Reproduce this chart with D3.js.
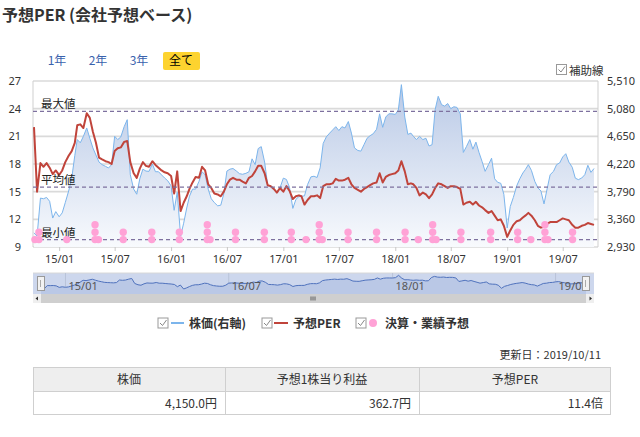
<!DOCTYPE html>
<html>
<head>
<meta charset="utf-8">
<script src="https://cdnjs.cloudflare.com/ajax/libs/d3/7.8.5/d3.min.js"></script>
<style>
  body { margin: 0; background: #fff; }
  svg text { font-family: "Noto Sans CJK JP", "Noto Sans", sans-serif; }
</style>
</head>
<body>
<div id="chart-area"></div>
<script>
// ---- data ----
const startDate = "2014-10-11";
const endDate = "2019-10-11";
const sampleDays = [1, 11, 21];

// 予想PER, 3 points a month (1st, 11th, 21st)
const per2014 = [22.0, 15.0, 18.1, 17.7, 18.1, 17.6, 16.9, 17.3];
const per2015 = [16.8, 17.3, 18.2, 18.9, 19.4, 20.3, 22.2, 22.3, 21.9, 23.5, 23.0, 21.5,
                 20.3, 18.7, 18.5, 18.3, 18.2, 18.0, 19.4, 19.7, 19.8, 20.4, 20.5, 18.2,
                 17.0, 16.5, 17.5, 18.2, 17.8, 17.7, 18.3, 17.9, 17.6, 17.3, 17.1, 17.0];
const per2016 = [16.7, 14.8, 17.2, 12.9, 13.8, 14.5, 15.3, 16.0, 16.6, 16.5, 17.7, 17.3,
                 15.8, 15.4, 14.8, 14.7, 14.5, 15.0, 15.8, 16.3, 16.5, 16.3, 16.3, 16.1,
                 15.9, 16.5, 16.7, 17.2, 17.8, 17.8, 17.0, 15.7, 15.6, 15.3, 14.9, 15.4];
const per2017 = [15.0, 15.6, 15.1, 14.2, 14.5, 14.6, 14.5, 13.6, 14.1, 14.5, 14.5, 14.6,
                 14.3, 15.6, 15.8, 15.8, 15.9, 16.4, 16.2, 16.2, 16.3, 16.5, 15.8, 15.4,
                 15.2, 15.0, 15.3, 15.5, 15.7, 15.9, 16.0, 17.0, 16.0, 16.6, 16.8, 16.9];
const per2018 = [17.0, 17.3, 18.3, 17.2, 15.8, 15.9, 15.8, 15.4, 14.6, 14.9, 14.7, 14.3,
                 14.7, 15.4, 15.9, 15.8, 15.6, 15.4, 15.6, 15.6, 15.5, 15.3, 13.6, 13.8,
                 13.9, 13.6, 13.9, 13.5, 13.3, 13.0, 12.7, 12.9, 12.4, 11.9, 12.0, 11.3];
const per2019 = [10.1, 10.8, 11.4, 11.8, 11.9, 12.2, 12.4, 12.7, 12.4, 11.9, 11.3, 11.1,
                 11.2, 11.5, 11.7, 11.7, 11.7, 11.9, 12.1, 12.0, 11.9, 11.4, 11.1, 11.1,
                 11.3, 11.4, 11.6, 11.5, 11.4];

// 株価(右軸)
const price2014 = [3150, 3100, 3690, 3680, 3700, 3640, 3380, 3480];
const price2015 = [3400, 3460, 3620, 3800, 4000, 4350, 4600, 4550, 4650, 4780, 4620, 4470,
                   4360, 4250, 4210, 4184, 4158, 4210, 4650, 4600, 4640, 4800, 4909, 4054,
                   3830, 3750, 3990, 4140, 4110, 4106, 4220, 4100, 4100, 4050, 4002, 3960];
const price2016 = [3880, 3500, 3780, 3100, 3300, 3536, 3720, 3830, 3830, 3950, 4100, 4050,
                   3830, 3680, 3620, 3570, 3580, 3760, 4110, 4140, 4150, 4110, 4070, 4060,
                   4075, 4100, 4300, 4210, 4460, 4490, 4250, 3890, 3865, 3840, 3770, 3847];
const price2017 = [4000, 3980, 3860, 3530, 3670, 3715, 3718, 3725, 3900, 4020, 4030, 4010,
                   4160, 4540, 4640, 4700, 4750, 4800, 4740, 4800, 4780, 4880, 4700, 4470,
                   4430, 4420, 4520, 4620, 4660, 4690, 4760, 5000, 4790, 4950, 5000, 5000];
const price2018 = [4990, 5060, 5453, 4950, 4680, 4700, 4650, 4600, 4650, 4600, 4620, 4500,
                   4520, 5065, 5272, 5142, 5120, 5160, 5080, 5110, 5100, 5000, 4400, 4490,
                   4600, 4450, 4560, 4400, 4260, 4106, 4210, 4310, 3990, 3935, 3920, 3750];
const price2019 = [3225, 3560, 3700, 3880, 3990, 4080, 4132, 4210, 4120, 3950, 3850, 3800,
                   3600, 3830, 4054, 4106, 4210, 4236, 4330, 4380, 4250, 4170, 4000, 3977,
                   4002, 4054, 4200, 4090, 4150];

// 最大値 / 平均値 / 最小値 of PER
const refLabels = ["最大値", "平均値", "最小値"];
const refValues = [23.7, 15.5, 9.8];

// 決算・業績予想 (date, number of stacked dots)
const dotDates = ["2014-10-14", "2014-10-27", "2015-01-26", "2015-04-28", "2015-05-09", "2015-07-29",
                  "2015-10-30", "2016-01-28", "2016-04-28", "2016-05-07", "2016-07-29", "2016-10-31",
                  "2017-01-27", "2017-03-16", "2017-04-28", "2017-05-08", "2017-07-31", "2017-11-01",
                  "2018-02-02", "2018-03-17", "2018-05-03", "2018-05-14", "2018-08-03", "2018-11-08",
                  "2019-02-04", "2019-03-19", "2019-05-04", "2019-05-14", "2019-08-02"];
const dotCounts = [1, 2, 1, 3, 1, 2,
                   2, 2, 3, 1, 2, 2,
                   2, 1, 3, 1, 2, 2,
                   2, 1, 3, 1, 2, 2,
                   2, 1, 3, 1, 2];

const perTicks = [9, 12, 15, 18, 21, 24, 27];
const priceTicks = [2930, 3360, 3790, 4220, 4650, 5080, 5510];
const xTicks = ["2015-01-01", "2015-07-01", "2016-01-01", "2016-07-01", "2017-01-01",
                "2017-07-01", "2018-01-01", "2018-07-01", "2019-01-01", "2019-07-01"];
const navTicks = ["2015-01-01", "2016-07-01", "2018-01-01", "2019-07-01"];

const rangeButtons = ["1年", "2年", "3年", "全て"];
const legendLabels = ["株価(右軸)", "予想PER", "決算・業績予想"];
const tableHeaders = ["株価", "予想1株当り利益", "予想PER"];
const tableValues = ["4,150.0円", "362.7円", "11.4倍"];

// ---- build the series ----
const parse = d3.utcParse("%Y-%m-%d");
const start = parse(startDate), end = parse(endDate);
const dates = d3.utcMonths(d3.utcMonth.floor(start), d3.utcMonth.offset(end, 1))
  .flatMap(m => sampleDays.map(day => new Date(Date.UTC(m.getUTCFullYear(), m.getUTCMonth(), day))))
  .filter(d => d >= start && d <= end);
const perValues = [].concat(per2014, per2015, per2016, per2017, per2018, per2019);
const priceValues = [].concat(price2014, price2015, price2016, price2017, price2018, price2019);
const data = dates.map((d, i) => ({date: d, per: perValues[i], price: priceValues[i]}));

// ---- layout ----
const W = 640, H = 437;
const plot = {left: 33, right: 598, top: 81, bottom: 247};

const svg = d3.select("#chart-area").append("svg")
  .attr("width", W).attr("height", H);

const x = d3.scaleUtc().domain([start, end]).range([34, 594]);
const yPer = d3.scaleLinear().domain([9, 27]).range([plot.bottom, plot.top]);
const yPrice = d3.scaleLinear().domain([2930, 5510]).range([plot.bottom, plot.top]);

// title
svg.append("text")
  .attr("x", 2).attr("y", 21)
  .attr("font-size", "16px").attr("font-weight", "bold").attr("fill", "#333")
  .text("予想PER (会社予想ベース)");

// range buttons
const btnX = [57, 98, 139, 181];
svg.append("rect")
  .attr("x", 163).attr("y", 52).attr("width", 37).attr("height", 18).attr("rx", 2)
  .attr("fill", "#fdd32f");
rangeButtons.forEach((t, i) => {
  svg.append("text")
    .attr("x", btnX[i]).attr("y", 65).attr("text-anchor", "middle")
    .attr("font-size", "12px")
    .attr("fill", i === 3 ? "#000" : "#3a62ad")
    .text(t);
});

function checkbox(g, cx, cy) {
  g.append("rect").attr("x", cx).attr("y", cy).attr("width", 10).attr("height", 10)
    .attr("fill", "#fff").attr("stroke", "#999");
  g.append("path")
    .attr("d", `M${cx + 2},${cy + 5} L${cx + 4.5},${cy + 7.5} L${cx + 8.5},${cy + 2}`)
    .attr("fill", "none").attr("stroke", "#888").attr("stroke-width", 1);
}

// 補助線
checkbox(svg, 556.5, 64.5);
svg.append("text").attr("x", 569).attr("y", 74.5)
  .attr("font-size", "11.5px").attr("fill", "#333").text("補助線");

// gradient for the price area
const defs = svg.append("defs");
const grad = defs.append("linearGradient").attr("id", "areaGrad")
  .attr("x1", 0).attr("y1", 0).attr("x2", 0).attr("y2", 1);
grad.append("stop").attr("offset", "0%").attr("stop-color", "#b9c9e6");
grad.append("stop").attr("offset", "100%").attr("stop-color", "#f8fafd");

// gridlines
const g = svg.append("g");
g.selectAll(".grid").data(perTicks).enter().append("line")
  .attr("x1", plot.left).attr("x2", plot.right)
  .attr("y1", d => yPer(d)).attr("y2", d => yPer(d))
  .attr("stroke", "#dadada").attr("stroke-width", 1.6);
[plot.left, plot.right].forEach(px => {
  g.append("line").attr("x1", px).attr("x2", px)
    .attr("y1", plot.top).attr("y2", plot.bottom)
    .attr("stroke", "#cfcfcf").attr("stroke-width", 1);
});

// price area + line
g.append("path").datum(data)
  .attr("fill", "url(#areaGrad)")
  .attr("d", d3.area().x(d => x(d.date)).y0(plot.bottom).y1(d => yPrice(d.price)));
g.append("path").datum(data)
  .attr("fill", "none").attr("stroke", "#7cb5ec").attr("stroke-width", 1)
  .attr("d", d3.line().x(d => x(d.date)).y(d => yPrice(d.price)));

// PER line
g.append("path").datum(data)
  .attr("fill", "none").attr("stroke", "#c0443b").attr("stroke-width", 2)
  .attr("stroke-linejoin", "round")
  .attr("d", d3.line().x(d => x(d.date)).y(d => yPer(d.per)));

// reference lines
refValues.forEach((v, i) => {
  g.append("line")
    .attr("x1", plot.left).attr("x2", plot.right)
    .attr("y1", yPer(v)).attr("y2", yPer(v))
    .attr("stroke", "#7e719f").attr("stroke-width", 1.3)
    .attr("stroke-dasharray", "4,3");
  g.append("text")
    .attr("x", 41).attr("y", yPer(v) - 3)
    .attr("font-size", "11.5px").attr("fill", "#222")
    .text(refLabels[i]);
});

// 決算・業績予想 dots
const dots = [];
dotDates.forEach((ds, i) => {
  for (let k = 0; k < dotCounts[i]; k++) dots.push({date: parse(ds), level: k});
});
g.selectAll(".dot").data(dots).enter().append("circle")
  .attr("cx", d => x(d.date))
  .attr("cy", d => yPer(refValues[2]) - d.level * 7.4)
  .attr("r", 3.7)
  .attr("fill", "#ffa2d6");

// axes
const yAxisL = g.append("g")
  .attr("transform", `translate(${plot.left},0)`)
  .call(d3.axisLeft(yPer).tickValues(perTicks).tickSize(0).tickPadding(12));
const yAxisR = g.append("g")
  .attr("transform", `translate(${plot.right},0)`)
  .call(d3.axisRight(yPrice).tickValues(priceTicks).tickFormat(d3.format(",")).tickSize(0).tickPadding(9));
const xAxis = g.append("g")
  .attr("transform", `translate(0,${plot.bottom})`)
  .call(d3.axisBottom(x).tickValues(xTicks.map(parse)).tickFormat(d3.utcFormat("%y/%m")).tickSize(4).tickPadding(4));
[yAxisL, yAxisR, xAxis].forEach(a => {
  a.select(".domain").remove();
  a.selectAll("text").attr("font-size", "11px").attr("fill", "#333")
    .style("font-family", "'Noto Sans', sans-serif");
  a.selectAll("line").attr("stroke", "#c8c8c8");
});

// ---- navigator ----
const nav = {left: 33, right: 594, top: 273, bottom: 294};
const xNav = d3.scaleUtc().domain([start, end]).range([41, 586]);
const yNav = d3.scaleLinear().domain([2930, 5510]).range([290, 275]);
const ng = svg.append("g");
ng.append("rect").attr("x", nav.left).attr("y", nav.top)
  .attr("width", nav.right - nav.left).attr("height", nav.bottom - nav.top)
  .attr("fill", "#cdd7ed");
ng.append("line").attr("x1", nav.left).attr("x2", nav.right)
  .attr("y1", nav.top).attr("y2", nav.top).attr("stroke", "#d8d8d8");
ng.selectAll(".navtick").data(navTicks.map(parse)).enter().append("line")
  .attr("x1", d => xNav(d)).attr("x2", d => xNav(d))
  .attr("y1", nav.top).attr("y2", nav.bottom)
  .attr("stroke", "#b9c3d8").attr("stroke-width", 1);
ng.append("path").datum(data)
  .attr("fill", "#bac8e6")
  .attr("d", d3.area().x(d => xNav(d.date)).y0(nav.bottom).y1(d => yNav(d.price)));
ng.append("path").datum(data)
  .attr("fill", "none").attr("stroke", "#4f72bd").attr("stroke-width", 1)
  .attr("d", d3.line().x(d => xNav(d.date)).y(d => yNav(d.price)));
ng.selectAll(".navlabel").data(navTicks.map(parse)).enter().append("text")
  .attr("x", d => xNav(d) + 3).attr("y", 290)
  .attr("font-size", "11px").attr("fill", "#555")
  .style("font-family", "'Noto Sans', sans-serif")
  .text(d3.utcFormat("%y/%m"));
// handles
[41, 586].forEach(hx => {
  ng.append("rect").attr("x", hx - 3.5).attr("y", 276.5).attr("width", 7).attr("height", 14)
    .attr("fill", "#f2f2f2").attr("stroke", "#999");
  ng.append("line").attr("x1", hx - 0.5).attr("x2", hx - 0.5).attr("y1", 280).attr("y2", 287)
    .attr("stroke", "#aaa");
});
// scrollbar
ng.append("rect").attr("x", nav.left).attr("y", 294).attr("width", nav.right - nav.left)
  .attr("height", 9).attr("fill", "#efefef");
ng.append("rect").attr("x", 41).attr("y", 294).attr("width", 545).attr("height", 9)
  .attr("fill", "#cfcfcf");
[311, 313, 315].forEach(gx => {
  ng.append("line").attr("x1", gx).attr("x2", gx).attr("y1", 296.5).attr("y2", 300.5)
    .attr("stroke", "#444").attr("stroke-width", 0.8);
});
ng.append("path").attr("d", "M38,296.5 L35.5,298.5 L38,300.5 Z").attr("fill", "#333");
ng.append("path").attr("d", "M589.5,296.5 L592,298.5 L589.5,300.5 Z").attr("fill", "#333");

// ---- legend ----
const lg = svg.append("g");
const legendX = [158, 262, 356];
legendLabels.forEach((t, i) => {
  checkbox(lg, legendX[i], 318);
  if (i === 0) {
    lg.append("line").attr("x1", 171).attr("x2", 184).attr("y1", 323).attr("y2", 323)
      .attr("stroke", "#7cb5ec").attr("stroke-width", 2);
  } else if (i === 1) {
    lg.append("line").attr("x1", 274).attr("x2", 288).attr("y1", 323).attr("y2", 323)
      .attr("stroke", "#c0443b").attr("stroke-width", 2);
  } else {
    lg.append("circle").attr("cx", 373).attr("cy", 323).attr("r", 4).attr("fill", "#ffa2d6");
  }
  lg.append("text")
    .attr("x", [189, 293, 385][i]).attr("y", 327.5)
    .attr("font-size", "12px").attr("font-weight", "bold").attr("fill", "#333")
    .text(t);
});

// ---- table ----
svg.append("text").attr("x", 601).attr("y", 359).attr("text-anchor", "end")
  .attr("font-size", "11px").attr("fill", "#333").text("更新日：2019/10/11");
const colX = [33, 225, 419, 611];
const tg = svg.append("g");
tg.append("rect").attr("x", 33).attr("y", 367).attr("width", 578).attr("height", 24)
  .attr("fill", "#eeeeee");
tg.append("rect").attr("x", 33.5).attr("y", 367.5).attr("width", 577).attr("height", 47)
  .attr("fill", "none").attr("stroke", "#cfcfcf");
tg.append("line").attr("x1", 33).attr("x2", 611).attr("y1", 391.5).attr("y2", 391.5)
  .attr("stroke", "#cfcfcf");
[225, 419].forEach(cx => {
  tg.append("line").attr("x1", cx + 0.5).attr("x2", cx + 0.5).attr("y1", 367).attr("y2", 415)
    .attr("stroke", "#cfcfcf");
});
tableHeaders.forEach((t, i) => {
  tg.append("text").attr("x", (colX[i] + colX[i + 1]) / 2).attr("y", 384)
    .attr("text-anchor", "middle").attr("font-size", "12px").attr("fill", "#333").text(t);
  tg.append("text").attr("x", colX[i + 1] - 8).attr("y", 408)
    .attr("text-anchor", "end").attr("font-size", "12px").attr("fill", "#333").text(tableValues[i]);
});
</script>
</body>
</html>
